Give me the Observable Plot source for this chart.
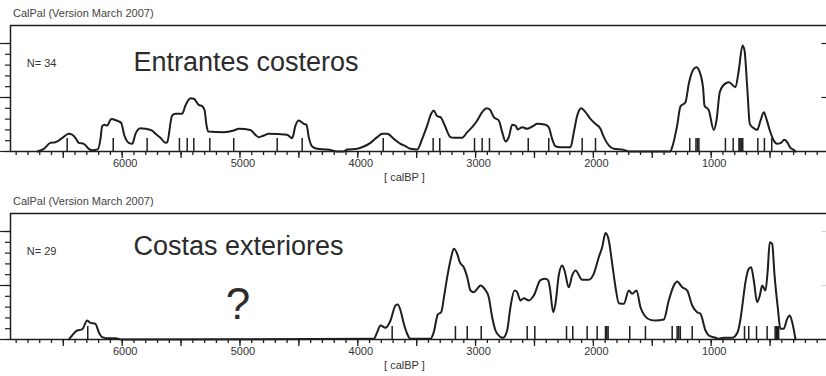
<!DOCTYPE html>
<html><head><meta charset="utf-8">
<script src="https://cdn.jsdelivr.net/npm/d3@7"></script>
<script src="https://cdn.jsdelivr.net/npm/@observablehq/plot@0.6"></script>
<style>
body{margin:0;background:#fff;overflow:hidden}
#chart svg{display:block}
</style>
</head><body><div id="chart"></div>
<script>
// ---------- data ----------
const headerText = "CalPal (Version March 2007)";
const axisTitle = "[ calBP ]";
const xLabelTicks = [6000, 5000, 4000, 3000, 2000, 1000, 0];
const xMajorTicks = d3.range(500, 7000, 500);
const xMinorTicks = d3.range(100, 7000, 100);
const yMinorTicks = [0, 0.1, 0.2, 0.3, 0.4, 0.5, 0.6, 0.7, 0.8, 0.9, 1.0];
const yMajorTicks = [0, 0.5, 1.0];

const topTitle = "Entrantes costeros";
const topCount = "N= 34";
const topAge = [6720,6665,6609,6567,6510,6453,6424,6388,6368,6326,6283,6255,6207,6184,6170,6150,6127,6093,6071,6029,6009,5981,5944,5915,5887,5845,5802,5746,5717,5675,5632,5618,5576,5547,5491,5463,5420,5392,5350,5321,5300,5285,5270,5138,5053,5010,4911,4869,4841,4798,4756,4600,4557,4529,4501,4458,4435,4416,4387,4345,4260,4217,4175,4120,4090,4005,3949,3892,3835,3793,3750,3694,3637,3595,3553,3496,3453,3411,3377,3355,3326,3298,3264,3213,3185,3114,3071,3029,2986,2944,2907,2879,2845,2803,2774,2746,2718,2689,2661,2641,2604,2562,2506,2477,2407,2379,2350,2322,2279,2194,2166,2137,2104,2067,2025,1982,1940,1911,1869,1827,1742,1700,1346,1331,1289,1261,1218,1190,1153,1125,1097,1068,1057,1020,978,955,927,898,850,794,766,734,717,694,672,644,610,581,553,531,502,469,440,412,378,355,327,299,284];
const topDensity = [0,0.025,0.08,0.086,0.123,0.164,0.157,0.111,0.08,0.071,0.025,0.012,0.02,0.117,0.234,0.247,0.24,0.302,0.296,0.278,0.265,0.148,0.08,0.071,0.164,0.216,0.21,0.194,0.164,0.127,0.08,0.086,0.333,0.349,0.349,0.426,0.494,0.488,0.432,0.42,0.38,0.25,0.185,0.179,0.194,0.21,0.2,0.154,0.133,0.148,0.164,0.154,0.123,0.24,0.287,0.256,0.247,0.133,0.046,0.025,0.018,0.01,0,0,0.018,0.025,0.046,0.08,0.133,0.164,0.164,0.117,0.071,0.05,0.025,0.018,0.117,0.24,0.349,0.38,0.327,0.318,0.247,0.133,0.127,0.127,0.179,0.225,0.287,0.364,0.401,0.389,0.318,0.287,0.179,0.093,0.133,0.247,0.24,0.204,0.225,0.21,0.24,0.256,0.247,0.225,0.117,0.049,0.04,0.04,0.179,0.333,0.401,0.364,0.302,0.256,0.21,0.133,0.056,0.025,0.015,0,0,0.04,0.24,0.417,0.457,0.627,0.756,0.781,0.735,0.58,0.426,0.38,0.2,0.287,0.549,0.611,0.642,0.595,0.75,0.981,0.935,0.595,0.256,0.219,0.2,0.287,0.364,0.302,0.194,0.102,0.071,0.077,0.108,0.086,0.034,0.015,0];
const topSamples = [6467,6076,5788,5514,5448,5392,5256,5053,4684,4472,3784,3360,3304,3009,2944,2882,2553,2379,2095,1982,1182,1129,1116,1104,879,813,764,756,747,739,732,604,548,486];

const bottomTitle = "Costas exteriores";
const bottomCount = "N= 29";
const bottomNote = "?";
const bottomAge = [6453,6425,6382,6340,6297,6269,6227,6199,6170,6127,6057,6029,6009,3864,3835,3807,3765,3722,3680,3660,3637,3609,3581,3553,3383,3355,3321,3292,3264,3236,3207,3185,3156,3134,3100,3071,3043,3015,2986,2958,2924,2888,2859,2831,2795,2766,2732,2704,2670,2647,2619,2591,2548,2506,2449,2407,2385,2370,2341,2322,2294,2265,2245,2209,2180,2152,2095,2039,1997,1954,1925,1897,1869,1840,1812,1784,1742,1699,1671,1634,1600,1566,1515,1473,1402,1360,1317,1289,1246,1204,1161,1119,1091,1048,1020,963,935,893,822,779,751,737,709,681,661,638,610,587,567,539,520,503,482,463,435,412,384,355,333,312,284];
const bottomDensity = [0,0.037,0.083,0.093,0.176,0.154,0.145,0.068,0.022,0.012,0.012,0.006,0,0.006,0.068,0.13,0.108,0.176,0.315,0.324,0.269,0.145,0.053,0.006,0.006,0.068,0.231,0.253,0.423,0.608,0.762,0.84,0.793,0.716,0.669,0.577,0.454,0.438,0.469,0.5,0.469,0.392,0.206,0.083,0.028,0.016,0.083,0.299,0.454,0.438,0.361,0.383,0.361,0.407,0.55,0.562,0.55,0.484,0.253,0.33,0.593,0.685,0.639,0.484,0.593,0.639,0.553,0.553,0.608,0.762,0.855,0.985,0.917,0.701,0.484,0.336,0.33,0.454,0.423,0.454,0.299,0.222,0.182,0.176,0.185,0.361,0.5,0.537,0.484,0.454,0.315,0.253,0.238,0.083,0.037,0.016,0.006,0.016,0.016,0.06,0.19,0.299,0.531,0.654,0.669,0.546,0.346,0.407,0.5,0.454,0.639,0.901,0.886,0.608,0.299,0.099,0.099,0.191,0.222,0.16,0];
const bottomSamples = [6292,3708,3171,3071,2952,2562,2497,2228,2175,2053,1968,1897,1886,1875,1691,1558,1331,1289,1275,1262,1161,717,681,615,525,457,447,437,427];

// ---------- drawing ----------
const X_DOMAIN = [6948, 21];
const Y_MAX = 1.1667;
const FONT = "'Liberation Sans', Arial, sans-serif";
const INK = "#1e1e1e";

function panel({age, density, samples, title, titleAt, count, note, rightTickColor}) {
  const curve = age.map((a, i) => ({age: a, v: density[i]}));
  const marks = [
    // frame
    Plot.ruleY([Y_MAX], {stroke: INK, strokeWidth: 1.5}),
    Plot.ruleX([X_DOMAIN[0]], {stroke: INK, strokeWidth: 1.5}),
    Plot.ruleY([0], {stroke: INK, strokeWidth: 1.5}),
    // y ticks (outside left)
    Plot.axisY({ticks: yMinorTicks, tickSize: 5, tickFormat: () => "", stroke: INK, strokeWidth: 1.2, label: null}),
    Plot.axisY({ticks: yMajorTicks, tickSize: 10, tickFormat: () => "", stroke: INK, strokeWidth: 1.2, label: null}),
    // right ticks
    Plot.ruleY(yMajorTicks.slice(1), {x1: 59, x2: 0, stroke: rightTickColor, strokeWidth: 1.2}),
    // x ticks
    Plot.axisX({ticks: xMinorTicks, tickSize: 4, tickFormat: () => "", stroke: INK, strokeWidth: 1.3, label: null}),
    Plot.axisX({ticks: xMajorTicks, tickSize: 7, tickFormat: () => "", stroke: INK, strokeWidth: 1.3, label: null}),
    Plot.axisX({ticks: xLabelTicks, tickSize: 0, tickPadding: 8, dx: 3, tickFormat: d => String(d), fill: "#333", fontSize: 11, label: null}),
    // sample rug
    Plot.ruleX(samples, {x: d => d, y1: 0, y2: 0.12, stroke: INK, strokeWidth: 1.5}),
    // summed probability curve
    Plot.line(curve, {x: "age", y: "v", stroke: INK, strokeWidth: 2, curve: "monotone-x"}),
    // texts
    Plot.text([headerText], {x: 6927, y: 1.278, text: d => d, textAnchor: "start", fontSize: 11, fill: "#444"}),
    Plot.text([count], {x: 6810, y: 0.815, text: d => d, textAnchor: "start", fontSize: 11, fill: "#333"}),
    Plot.text([title], {x: 5904, y: titleAt, text: d => d, textAnchor: "start", fontSize: 27, fill: "#2b2b2b"}),
    Plot.text([axisTitle], {x: 3604, y: -0.245, text: d => d, fontSize: 11, fill: "#333"})
  ];
  if (note) marks.push(Plot.text([note], {x: 5017, y: 0.324, text: d => d, fontSize: 44, fill: "#2b2b2b"}));
  return Plot.plot({
    width: 826,
    height: 188,
    marginTop: 25,
    marginBottom: 37,
    marginLeft: 10,
    marginRight: 0,
    style: {fontFamily: FONT, fontSize: "11px", background: "#fff", overflow: "hidden"},
    x: {domain: X_DOMAIN},
    y: {domain: [0, Y_MAX]},
    marks
  });
}

const chart = document.getElementById("chart");
chart.append(panel({age: topAge, density: topDensity, samples: topSamples, title: topTitle, titleAt: 0.824, count: topCount, rightTickColor: INK}));
chart.append(panel({age: bottomAge, density: bottomDensity, samples: bottomSamples, title: bottomTitle, titleAt: 0.864, count: bottomCount, note: bottomNote, rightTickColor: "#d8d8d8"}));
</script>
</body></html>
